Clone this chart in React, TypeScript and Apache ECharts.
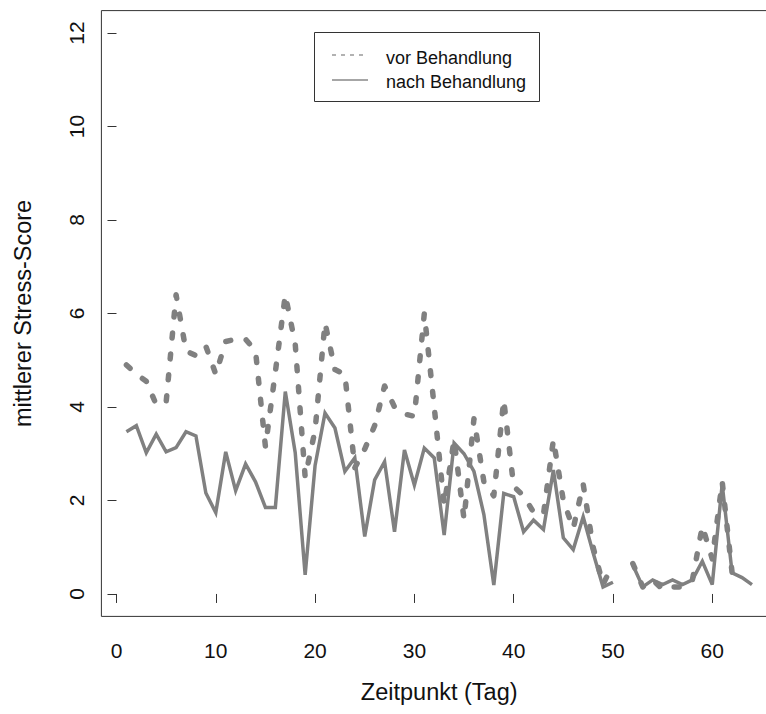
import React, { useEffect, useRef } from "react";
import * as echarts from "echarts";

const days = Array.from({ length: 64 }, (_, i) => i + 1);

const vorBehandlung: (number | null)[] = [
  4.9, 4.7, 4.55, 4.05, 4.1, 6.4, 5.2, 5.1, 5.3, 4.7,
  5.4, 5.45, 5.45, 5.2, 3.15, 4.75, 6.4, 5.35, 2.5, 3.5,
  5.8, 4.8, 4.7, 2.7, 3.1, 3.6, 4.45, 4.0, 3.85, 3.8,
  6.0, 4.0, 1.9, 3.3, 1.6, 3.75, 2.4, 2.1, 4.15, 2.3,
  2.1, 1.75, 1.7, 3.3, 2.0, 1.4, 2.35, 1.0, 0.2, 0.65,
  null, 0.65, 0.15, 0.3, 0.1, 0.15, 0.15, 0.3, 1.45, 0.75,
  2.4, 0.45, 0.5, null,
];

const nachBehandlung: (number | null)[] = [
  3.47, 3.6, 3.02, 3.42, 3.04, 3.13, 3.47, 3.38, 2.16, 1.74,
  3.04, 2.21, 2.78, 2.4, 1.85, 1.85, 4.33, 3.02, 0.41, 2.75,
  3.87, 3.55, 2.62, 2.91, 1.23, 2.44, 2.83, 1.33, 3.08, 2.33,
  3.12, 2.91, 1.26, 3.23, 3.0, 2.62, 1.7, 0.19, 2.15, 2.08,
  1.33, 1.58, 1.38, 2.65, 1.2, 0.95, 1.65, 0.88, 0.15, 0.25,
  null, 0.62, 0.15, 0.3, 0.2, 0.3, 0.2, 0.3, 0.7, 0.2,
  2.35, 0.45, 0.35, 0.2,
];

const xTicks = [0, 10, 20, 30, 40, 50, 60];
const yTicks = [0, 2, 4, 6, 8, 10, 12];

const seriesNames = ["vor Behandlung", "nach Behandlung"];
const xTitle = "Zeitpunkt (Tag)";
const yTitle = "mittlerer Stress-Score";

const FONT = "'Liberation Sans', Arial, sans-serif";
const LINE = "#808080";
const TEXT = "#111111";

function toData(vals: (number | null)[]) {
  return days.map((d, i) => [d, vals[i] === null ? "-" : vals[i]]);
}

export default function App() {
  const ref = useRef<HTMLDivElement>(null);

  useEffect(() => {
    if (!ref.current) return;
    const chart = echarts.init(ref.current, null, { renderer: "svg" });
    chart.setOption({
      animation: false,
      backgroundColor: "#ffffff",
      grid: {
        left: 101.4,
        top: 10.6,
        width: 675.6,
        height: 605.8,
        show: true,
        borderColor: "#333",
        borderWidth: 1,
        backgroundColor: "transparent",
      },
      xAxis: {
        type: "value",
        min: -1.52,
        max: 66.52,
        splitLine: { show: false },
        axisLine: { show: false },
        axisTick: {
          show: true,
          customValues: xTicks,
          length: 9,
          inside: false,
          lineStyle: { color: "#333", width: 1 },
        },
        axisLabel: {
          customValues: xTicks,
          color: TEXT,
          fontFamily: FONT,
          fontSize: 21,
          margin: 24,
        },
        name: xTitle,
        nameLocation: "middle",
        nameGap: 64,
        nameTextStyle: { color: TEXT, fontFamily: FONT, fontSize: 23.5 },
      },
      yAxis: {
        type: "value",
        min: -0.48,
        max: 12.48,
        splitLine: { show: false },
        axisLine: { show: false },
        axisTick: {
          show: true,
          customValues: yTicks,
          length: 9,
          lineStyle: { color: "#333", width: 1 },
        },
        axisLabel: {
          customValues: yTicks,
          rotate: 90,
          color: TEXT,
          fontFamily: FONT,
          fontSize: 21,
          margin: 14,
        },
        name: yTitle,
        nameLocation: "middle",
        nameGap: 66,
        nameTextStyle: { color: TEXT, fontFamily: FONT, fontSize: 23.5 },
      },
      series: [
        {
          name: seriesNames[0],
          type: "line",
          data: toData(vorBehandlung),
          showSymbol: false,
          connectNulls: false,
          lineStyle: { color: LINE, width: 5.5, type: [5, 16], cap: "round", join: "round" },
          z: 2,
        },
        {
          name: seriesNames[1],
          type: "line",
          data: toData(nachBehandlung),
          showSymbol: false,
          connectNulls: false,
          lineStyle: { color: LINE, width: 3.5, type: "solid", join: "miter" },
          z: 3,
        },
      ],
      graphic: [
        {
          type: "rect",
          shape: { x: 314.5, y: 32.5, width: 225, height: 69 },
          style: { fill: "#fff", stroke: "#333", lineWidth: 1 },
          z: 10,
        },
        {
          type: "line",
          shape: { x1: 332, y1: 55, x2: 366, y2: 55 },
          style: { stroke: "#999", lineWidth: 1.5, lineDash: [4, 5] },
          z: 11,
        },
        {
          type: "line",
          shape: { x1: 332, y1: 80, x2: 368, y2: 80 },
          style: { stroke: "#888", lineWidth: 1.5 },
          z: 11,
        },
        {
          type: "text",
          x: 386,
          y: 58,
          style: {
            text: seriesNames[0],
            fill: TEXT,
            font: `18px ${FONT}`,
            verticalAlign: "middle",
          },
          z: 11,
        },
        {
          type: "text",
          x: 386,
          y: 82,
          style: {
            text: seriesNames[1],
            fill: TEXT,
            font: `18px ${FONT}`,
            verticalAlign: "middle",
          },
          z: 11,
        },
      ],
    });
    return () => chart.dispose();
  }, []);

  return (
    <div
      ref={ref}
      style={{ position: "fixed", left: 0, top: 0, width: 800, height: 714 }}
    />
  );
}
